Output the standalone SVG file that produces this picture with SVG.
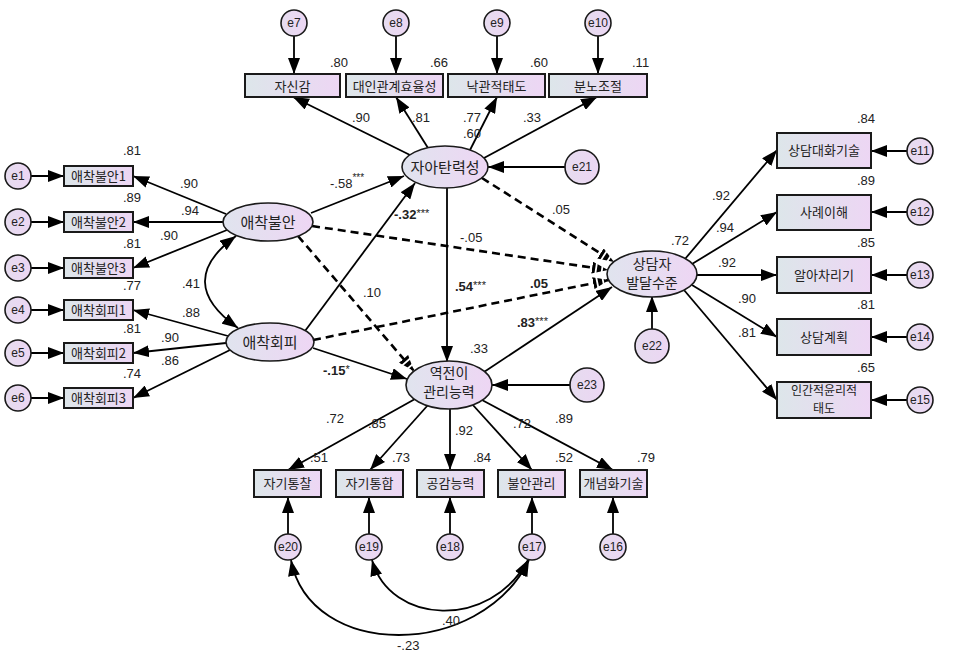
<svg xmlns="http://www.w3.org/2000/svg" width="954" height="653" viewBox="0 0 954 653">
<defs>
<linearGradient id="gb" x1="0" y1="0" x2="1" y2="0"><stop offset="0" stop-color="#dde6ea"/><stop offset="1" stop-color="#edd6f4"/></linearGradient>
<linearGradient id="ge" x1="0" y1="0" x2="1" y2="0"><stop offset="0" stop-color="#e0e4ee"/><stop offset="1" stop-color="#eed6f4"/></linearGradient>
<linearGradient id="gc" x1="0" y1="0" x2="1" y2="0"><stop offset="0" stop-color="#e6dcef"/><stop offset="1" stop-color="#ecd6f3"/></linearGradient>
<marker id="ah" viewBox="0 0 16 12" markerWidth="16" markerHeight="12" refX="16" refY="6" orient="auto-start-reverse" markerUnits="userSpaceOnUse"><path d="M0,0 L16,6 L0,12 z" fill="#000"/></marker>
<marker id="ahd" viewBox="0 0 16 12" markerWidth="16" markerHeight="12" refX="16" refY="6" orient="auto" markerUnits="userSpaceOnUse"><path d="M0,0 L16,6 L0,12 z" fill="#000"/><path d="M4,0 L4,12 M10,0 L10,12" stroke="#fff" stroke-width="1.8"/></marker>
<style>
.box{fill:url(#gb);stroke:#1a1a1a;stroke-width:2}
.lat{fill:url(#ge);stroke:#1a1a1a;stroke-width:1.6}
.err{fill:url(#gc);stroke:#1a1a1a;stroke-width:1.6}
.kt{font-family:"Noto Sans CJK KR","Noto Sans",sans-serif;fill:#222;text-anchor:middle}
.b13{font-size:13px}
.b12{font-size:12px}
.l15{font-size:15px}
.l14{font-size:14px}
.et{font-family:"Liberation Sans",Arial,sans-serif;font-size:12px;fill:#222;text-anchor:middle}
.n{font-family:"Liberation Sans",Arial,sans-serif;font-size:13px;fill:#222}
.nb{font-family:"Liberation Sans",Arial,sans-serif;font-size:13px;fill:#222;font-weight:bold}
.s{stroke:#000;stroke-width:1.8;fill:none;marker-end:url(#ah)}
.d{stroke:#000;stroke-width:2.6;fill:none;stroke-dasharray:8,5;marker-end:url(#ahd)}
.c{stroke:#000;stroke-width:1.8;fill:none;marker-start:url(#ah);marker-end:url(#ah)}
</style>
</defs>

<g id="connectors">
<line class="s" x1="294" y1="36" x2="294" y2="74"/>
<line class="s" x1="396" y1="36" x2="396" y2="74"/>
<line class="s" x1="497" y1="36" x2="497" y2="74"/>
<line class="s" x1="598" y1="36" x2="598" y2="74"/>
<line class="s" x1="410" y1="155" x2="293" y2="97"/>
<line class="s" x1="428" y1="148" x2="396" y2="97"/>
<line class="s" x1="470" y1="150" x2="497" y2="97"/>
<line class="s" x1="484" y1="158" x2="597" y2="97"/>
<line class="s" x1="565" y1="167" x2="488" y2="167"/>
<line class="s" x1="31" y1="176" x2="64" y2="176"/>
<line class="s" x1="31" y1="222" x2="64" y2="222"/>
<line class="s" x1="31" y1="268" x2="64" y2="268"/>
<line class="s" x1="31" y1="310" x2="64" y2="310"/>
<line class="s" x1="31" y1="353" x2="64" y2="353"/>
<line class="s" x1="31" y1="398" x2="64" y2="398"/>
<line class="s" x1="226" y1="214" x2="133" y2="176"/>
<line class="s" x1="223" y1="222" x2="133" y2="222"/>
<line class="s" x1="227" y1="230" x2="133" y2="268"/>
<line class="s" x1="228" y1="336" x2="133" y2="310"/>
<line class="s" x1="226" y1="343" x2="133" y2="353"/>
<line class="s" x1="230" y1="350" x2="133" y2="398"/>
<path class="c" d="M236,236 Q173,282 238,328"/>
<line class="s" x1="311" y1="213" x2="404" y2="176"/>
<line class="s" x1="305" y1="331" x2="415" y2="183"/>
<line class="d" x1="312" y1="226" x2="608" y2="270"/>
<line class="d" x1="298" y1="236" x2="414" y2="371"/>
<line class="d" x1="313" y1="340" x2="609" y2="280"/>
<line class="s" x1="313" y1="348" x2="407" y2="379"/>
<line class="s" x1="447" y1="188" x2="447" y2="362"/>
<line class="d" x1="482" y1="178" x2="614" y2="262"/>
<line class="s" x1="484" y1="372" x2="612" y2="287"/>
<line class="s" x1="652" y1="329" x2="652" y2="296"/>
<line class="s" x1="570" y1="385" x2="492" y2="385"/>
<line class="s" x1="685" y1="259" x2="777" y2="150"/>
<line class="s" x1="692" y1="264" x2="777" y2="212"/>
<line class="s" x1="697" y1="275" x2="777" y2="275"/>
<line class="s" x1="692" y1="285" x2="777" y2="337"/>
<line class="s" x1="684" y1="290" x2="777" y2="400"/>
<line class="s" x1="907" y1="151" x2="871" y2="151"/>
<line class="s" x1="907" y1="212" x2="871" y2="212"/>
<line class="s" x1="907" y1="275" x2="871" y2="275"/>
<line class="s" x1="907" y1="337" x2="871" y2="337"/>
<line class="s" x1="907" y1="400" x2="871" y2="400"/>
<line class="s" x1="415" y1="399" x2="288" y2="470"/>
<line class="s" x1="428" y1="405" x2="370" y2="470"/>
<line class="s" x1="450" y1="408" x2="450" y2="470"/>
<line class="s" x1="472" y1="404" x2="532" y2="470"/>
<line class="s" x1="482" y1="400" x2="613" y2="470"/>
<line class="s" x1="288" y1="534" x2="288" y2="497"/>
<line class="s" x1="369" y1="534" x2="369" y2="497"/>
<line class="s" x1="450" y1="534" x2="450" y2="497"/>
<line class="s" x1="532" y1="534" x2="532" y2="497"/>
<line class="s" x1="613" y1="534" x2="613" y2="497"/>
<path class="c" d="M291,560 C310,660 480,660 529,560"/>
<path class="c" d="M372,560 C390,625 490,630 528,560"/>
</g>

<g id="e7"><circle class="err" cx="294" cy="23" r="13"/><text class="et" x="294" y="27">e7</text></g>
<g id="e8"><circle class="err" cx="396" cy="23" r="13"/><text class="et" x="396" y="27">e8</text></g>
<g id="e9"><circle class="err" cx="497" cy="23" r="13"/><text class="et" x="497" y="27">e9</text></g>
<g id="e10"><circle class="err" cx="598" cy="23" r="13"/><text class="et" x="598" y="27">e10</text></g>
<g id="jasingam"><rect class="box" x="245" y="74" width="95" height="23"/><text class="kt b13" x="292.5" y="90.5">자신감</text></g>
<g id="daein"><rect class="box" x="346" y="74" width="97" height="23"/><text class="kt b13" x="394.5" y="90.5">대인관계효율성</text></g>
<g id="nakgwan"><rect class="box" x="448" y="74" width="97" height="23"/><text class="kt b13" x="496.5" y="90.5">낙관적태도</text></g>
<g id="bunno"><rect class="box" x="549" y="74" width="98" height="23"/><text class="kt b13" x="598" y="90.5">분노조절</text></g>

<g id="e1"><circle class="err" cx="18" cy="176" r="13"/><text class="et" x="18" y="180">e1</text></g>
<g id="e2"><circle class="err" cx="18" cy="222" r="13"/><text class="et" x="18" y="226">e2</text></g>
<g id="e3"><circle class="err" cx="18" cy="268" r="13"/><text class="et" x="18" y="272">e3</text></g>
<g id="e4"><circle class="err" cx="18" cy="310" r="13"/><text class="et" x="18" y="314">e4</text></g>
<g id="e5"><circle class="err" cx="18" cy="353" r="13"/><text class="et" x="18" y="357">e5</text></g>
<g id="e6"><circle class="err" cx="18" cy="398" r="13"/><text class="et" x="18" y="402">e6</text></g>
<g id="anx1"><rect class="box" x="64" y="166" width="69" height="20"/><text class="kt b13" x="98.5" y="181">애착불안1</text></g>
<g id="anx2"><rect class="box" x="64" y="212" width="69" height="20"/><text class="kt b13" x="98.5" y="227">애착불안2</text></g>
<g id="anx3"><rect class="box" x="64" y="258" width="69" height="20"/><text class="kt b13" x="98.5" y="273">애착불안3</text></g>
<g id="avo1"><rect class="box" x="64" y="300" width="69" height="20"/><text class="kt b13" x="98.5" y="315">애착회피1</text></g>
<g id="avo2"><rect class="box" x="64" y="343" width="69" height="20"/><text class="kt b13" x="98.5" y="358">애착회피2</text></g>
<g id="avo3"><rect class="box" x="64" y="388" width="69" height="20"/><text class="kt b13" x="98.5" y="403">애착회피3</text></g>

<g id="anxiety"><ellipse class="lat" cx="268" cy="222" rx="45" ry="19"/><text class="kt l15" x="268" y="227.5">애착불안</text></g>
<g id="avoidance"><ellipse class="lat" cx="270" cy="342" rx="44" ry="19"/><text class="kt l15" x="270" y="347.5">애착회피</text></g>
<g id="resilience"><ellipse class="lat" cx="445" cy="167" rx="43" ry="21"/><text class="kt l15" x="445" y="172.5">자아탄력성</text></g>
<g id="e21"><circle class="err" cx="582" cy="167" r="17"/><text class="et" x="582" y="171">e21</text></g>
<g id="counter"><ellipse class="lat" cx="449" cy="385" rx="43" ry="24"/><text class="kt l14" x="449" y="378">역전이</text><text class="kt l14" x="449" y="397">관리능력</text></g>
<g id="e23"><circle class="err" cx="587" cy="385" r="17"/><text class="et" x="587" y="389">e23</text></g>
<g id="develop"><ellipse class="lat" cx="652" cy="274" rx="45" ry="23"/><text class="kt l14" x="652" y="269">상담자</text><text class="kt l14" x="652" y="288">발달수준</text></g>
<g id="e22"><circle class="err" cx="652" cy="346" r="17"/><text class="et" x="652" y="350">e22</text></g>

<g id="r1"><rect class="box" x="777" y="133" width="94" height="35"/><text class="kt b13" x="824" y="155">상담대화기술</text></g>
<g id="r2"><rect class="box" x="777" y="195" width="94" height="35"/><text class="kt b13" x="824" y="217">사례이해</text></g>
<g id="r3"><rect class="box" x="777" y="257" width="94" height="36"/><text class="kt b13" x="824" y="280">알아차리기</text></g>
<g id="r4"><rect class="box" x="777" y="319" width="94" height="36"/><text class="kt b13" x="824" y="342">상담계획</text></g>
<g id="r5"><rect class="box" x="777" y="382" width="94" height="36"/><text class="kt b12" x="824" y="395">인간적윤리적</text><text class="kt b12" x="824" y="413">태도</text></g>
<g id="e11"><circle class="err" cx="920" cy="151" r="13"/><text class="et" x="920" y="155">e11</text></g>
<g id="e12"><circle class="err" cx="920" cy="212" r="13"/><text class="et" x="920" y="216">e12</text></g>
<g id="e13"><circle class="err" cx="920" cy="275" r="13"/><text class="et" x="920" y="279">e13</text></g>
<g id="e14"><circle class="err" cx="920" cy="337" r="13"/><text class="et" x="920" y="341">e14</text></g>
<g id="e15"><circle class="err" cx="920" cy="400" r="13"/><text class="et" x="920" y="404">e15</text></g>

<g id="b1"><rect class="box" x="254" y="470" width="67" height="27"/><text class="kt b13" x="287.5" y="488">자기통찰</text></g>
<g id="b2"><rect class="box" x="336" y="470" width="67" height="27"/><text class="kt b13" x="369.5" y="488">자기통합</text></g>
<g id="b3"><rect class="box" x="417" y="470" width="67" height="27"/><text class="kt b13" x="450.5" y="488">공감능력</text></g>
<g id="b4"><rect class="box" x="498" y="470" width="67" height="27"/><text class="kt b13" x="531.5" y="488">불안관리</text></g>
<g id="b5"><rect class="box" x="580" y="470" width="67" height="27"/><text class="kt b13" x="613.5" y="488">개념화기술</text></g>
<g id="e20"><circle class="err" cx="288" cy="547" r="13"/><text class="et" x="288" y="551">e20</text></g>
<g id="e19"><circle class="err" cx="369" cy="547" r="13"/><text class="et" x="369" y="551">e19</text></g>
<g id="e18"><circle class="err" cx="450" cy="547" r="13"/><text class="et" x="450" y="551">e18</text></g>
<g id="e17"><circle class="err" cx="532" cy="547" r="13"/><text class="et" x="532" y="551">e17</text></g>
<g id="e16"><circle class="err" cx="613" cy="547" r="13"/><text class="et" x="613" y="551">e16</text></g>

<g id="labels">
<text class="n" x="330" y="67">.80</text>
<text class="n" x="430" y="67">.66</text>
<text class="n" x="530" y="67">.60</text>
<text class="n" x="632" y="67">.11</text>
<text class="n" x="352" y="122">.90</text>
<text class="n" x="412" y="122">.81</text>
<text class="n" x="463" y="122">.77</text>
<text class="n" x="463" y="138">.60</text>
<text class="n" x="523" y="122">.33</text>
<text class="n" x="330" y="188">-.58<tspan font-size="10" dy="-7">***</tspan></text>
<text class="nb" x="394" y="219">-.32<tspan font-weight="normal" font-size="11" dy="-2">***</tspan></text>
<text class="n" x="460" y="242">-.05</text>
<text class="n" x="552" y="214">.05</text>
<text class="n" x="363" y="297">.10</text>
<text class="nb" x="455" y="291">.54<tspan font-weight="normal" font-size="11" dy="-2">***</tspan></text>
<text class="nb" x="530" y="288">.05</text>
<text class="nb" x="517" y="327">.83<tspan font-weight="normal" font-size="11" dy="-2">***</tspan></text>
<text class="n" x="470" y="353">.33</text>
<text class="nb" x="323" y="375">-.15<tspan font-weight="normal" font-size="11" dy="-2">*</tspan></text>
<text class="n" x="671" y="245">.72</text>
<text class="n" x="123" y="155">.81</text>
<text class="n" x="180" y="188">.90</text>
<text class="n" x="123" y="202">.89</text>
<text class="n" x="181" y="215">.94</text>
<text class="n" x="160" y="240">.90</text>
<text class="n" x="123" y="248">.81</text>
<text class="n" x="182" y="288">.41</text>
<text class="n" x="123" y="290">.77</text>
<text class="n" x="182" y="317">.88</text>
<text class="n" x="123" y="333">.81</text>
<text class="n" x="161" y="342">.90</text>
<text class="n" x="161" y="365">.86</text>
<text class="n" x="123" y="378">.74</text>
<text class="n" x="857" y="123">.84</text>
<text class="n" x="857" y="185">.89</text>
<text class="n" x="857" y="247">.85</text>
<text class="n" x="857" y="309">.81</text>
<text class="n" x="857" y="372">.65</text>
<text class="n" x="712" y="200">.92</text>
<text class="n" x="716" y="232">.94</text>
<text class="n" x="718" y="267">.92</text>
<text class="n" x="738" y="303">.90</text>
<text class="n" x="738" y="337">.81</text>
<text class="n" x="326" y="423">.72</text>
<text class="n" x="368" y="428">.85</text>
<text class="n" x="455" y="435">.92</text>
<text class="n" x="513" y="428">.72</text>
<text class="n" x="555" y="423">.89</text>
<text class="n" x="310" y="462">.51</text>
<text class="n" x="392" y="462">.73</text>
<text class="n" x="473" y="462">.84</text>
<text class="n" x="555" y="462">.52</text>
<text class="n" x="637" y="462">.79</text>
<text class="n" x="442" y="625">.40</text>
<text class="n" x="397" y="650">-.23</text>
</g>
</svg>
